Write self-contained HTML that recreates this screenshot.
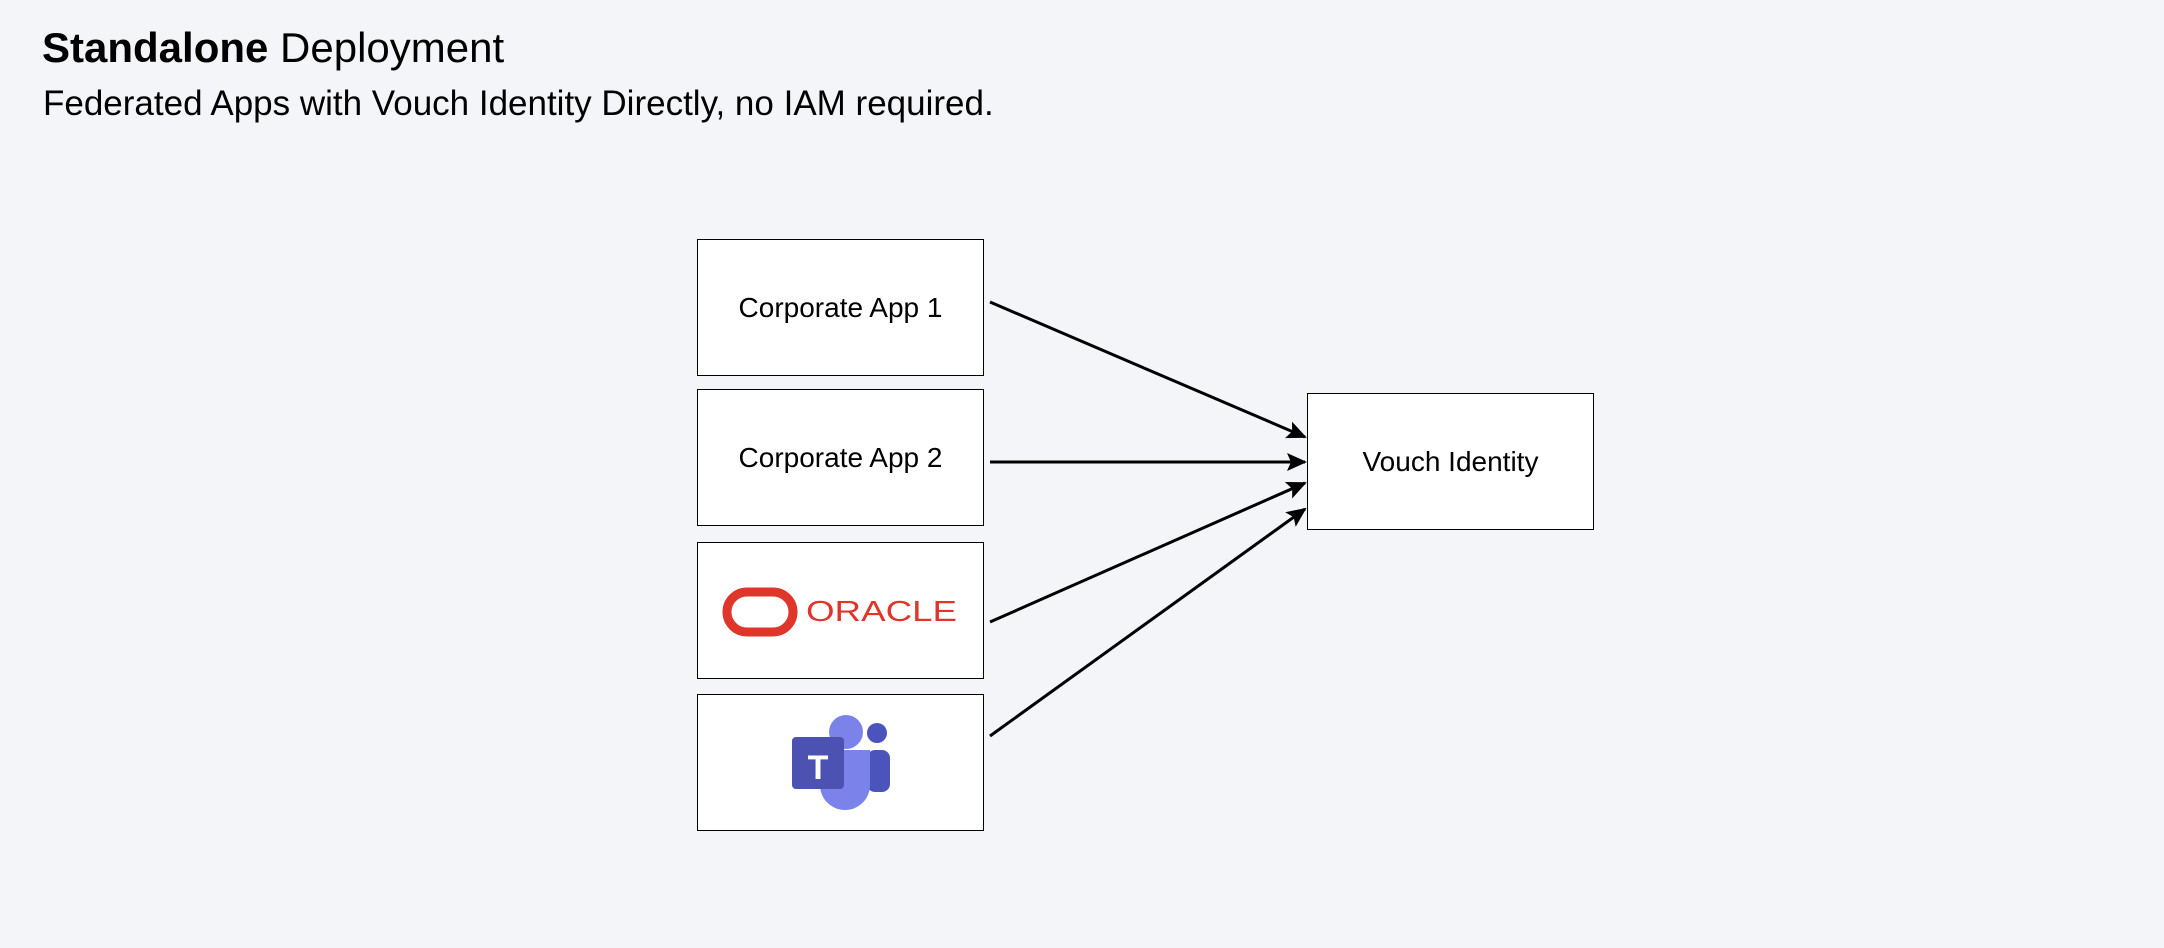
<!DOCTYPE html>
<html><head><style>
html,body{margin:0;padding:0;background:#f4f5f9;}
body{width:2164px;height:948px;position:relative;overflow:hidden;font-family:"Liberation Sans",Arial,sans-serif;}
.t{position:absolute;left:42px;top:24px;font-size:42px;color:#000;white-space:nowrap;}
.s{position:absolute;left:43px;top:84px;font-size:35px;color:#000;white-space:nowrap;}
.b{position:absolute;background:#fff;border:1.5px solid #000;box-sizing:border-box;display:flex;align-items:center;justify-content:center;font-size:28px;color:#000;}
</style></head><body>
<div class="t"><b>Standalone</b> Deployment</div>
<div class="s">Federated Apps with Vouch Identity Directly, no IAM required.</div>
<div class="b" style="left:697px;top:239px;width:287px;height:137px;">Corporate App 1</div>
<div class="b" style="left:697px;top:389px;width:287px;height:137px;">Corporate App 2</div>
<div class="b" style="left:697px;top:542px;width:287px;height:137px;"></div>
<div class="b" style="left:697px;top:694px;width:287px;height:137px;"></div>
<div class="b" style="left:1307px;top:393px;width:287px;height:137px;">Vouch Identity</div>
<svg width="2164" height="948" style="position:absolute;left:0;top:0">
<defs>
<marker id="m" markerWidth="20" markerHeight="18" refX="18" refY="9" orient="auto" markerUnits="userSpaceOnUse"><path d="M0,0 L20,9 L0,18 L4,9 Z" fill="#000"/></marker></defs>
<g stroke="#000" stroke-width="3" fill="none">
<line x1="990" y1="302" x2="1305" y2="437" marker-end="url(#m)"/>
<line x1="990" y1="462" x2="1305" y2="462" marker-end="url(#m)"/>
<line x1="990" y1="622" x2="1305" y2="483" marker-end="url(#m)"/>
<line x1="990" y1="736" x2="1305" y2="509" marker-end="url(#m)"/>
</g>
<rect x="727" y="592" width="66" height="40" rx="20" fill="none" stroke="#e0352b" stroke-width="9"/>
<text x="806" y="621" font-family="Liberation Sans,sans-serif" font-size="29" fill="#e0352b" textLength="151" lengthAdjust="spacingAndGlyphs">ORACLE</text>
<rect x="867" y="750" width="23" height="42" rx="8" fill="#4b53bc"/>
<circle cx="877" cy="733" r="10" fill="#4b53bc"/>
<path d="M820,750 H870 V785 A25,25 0 0 1 820,785 Z" fill="#7b83eb"/>
<circle cx="846" cy="732" r="17" fill="#7b83eb"/>
<rect x="792" y="737" width="52" height="52" rx="4" fill="#4c52b2"/>
<text x="818" y="779" text-anchor="middle" font-family="Liberation Sans,sans-serif" font-weight="bold" font-size="34" fill="#fff">T</text>
</svg>
</body></html>
